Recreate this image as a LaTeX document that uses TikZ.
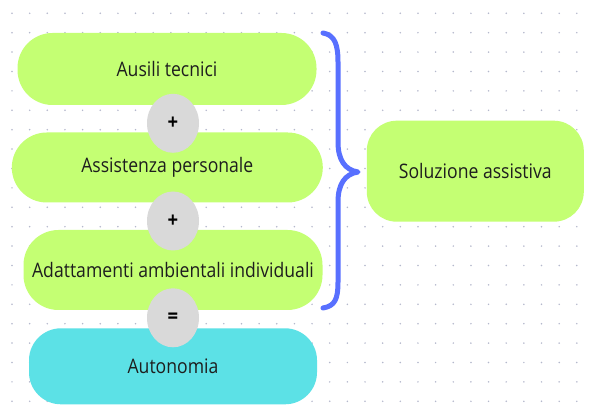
\documentclass[tikz,border=0pt]{standalone}
\usepackage{fontspec}
\setmainfont{Open Sans}[FakeStretch=0.88]
\usepackage{tikz}
\usetikzlibrary{shapes.geometric, positioning}

\definecolor{lime}{RGB}{196,255,115}
\definecolor{aqua}{RGB}{92,225,230}
\definecolor{knob}{RGB}{217,217,217}
\definecolor{bracecol}{RGB}{88,112,255}
\definecolor{dotcol}{RGB}{180,184,204}
\definecolor{ink}{RGB}{30,30,30}

\tikzset{
    pill/.style={rectangle, fill=lime, rounded corners=35pt, text=ink, font=\fontsize{20}{24}\selectfont, inner sep=0pt},
    opsign/.style={ellipse, fill=knob, minimum width=52pt, minimum height=59pt, inner sep=0pt, font=\bfseries\fontsize{21}{24}\selectfont, text=black}
}

\begin{document}
\begin{tikzpicture}[x=1pt, y=-1pt]
    \useasboundingbox[fill=white] (0,0) rectangle (592,419);
    % dot grid
    \foreach \i in {0,...,32} {
        \foreach \j in {0,...,20} {
            \fill[dotcol] (12+17.65*\i, 13.3+19.4*\j) circle (0.85pt);
        }
    }
    % left column
    \node[pill, minimum width=299pt, minimum height=72pt] (ausili) at (167,69) {Ausili tecnici};
    \node[pill, minimum width=311pt, minimum height=70pt] (assist) at (167.3,167.5) {Assistenza personale};
    \node[pill, minimum width=299pt, minimum height=80pt] (adatt) at (173,270) {Adattamenti ambientali individuali};
    \node[pill, fill=aqua, rounded corners=32pt, minimum width=288pt, minimum height=76pt] (auton) at (173,366.3) {Autonomia};
    \node[opsign] (plusA) at (173,123.3) {+};
    \node[opsign] (plusB) at (173,221) {+};
    \node[opsign] (equal) at (173,317.8) {=};
    % right box
    \node[pill, rounded corners=30pt, minimum width=217pt, minimum height=101pt] (soluz) at (475.3,171.2) {Soluzione assistiva};
    % brace
    \draw[bracecol, line width=5pt, line cap=round, line join=round]
        (323,33) .. controls (335,35) and (338,45) .. (338,62) -- (338,142)
        .. controls (338,160) and (345,170) .. (358,172)
        .. controls (345,174) and (338,184) .. (338,202) -- (338,282)
        .. controls (338,299) and (335,306) .. (323,308);
\end{tikzpicture}
\end{document}
